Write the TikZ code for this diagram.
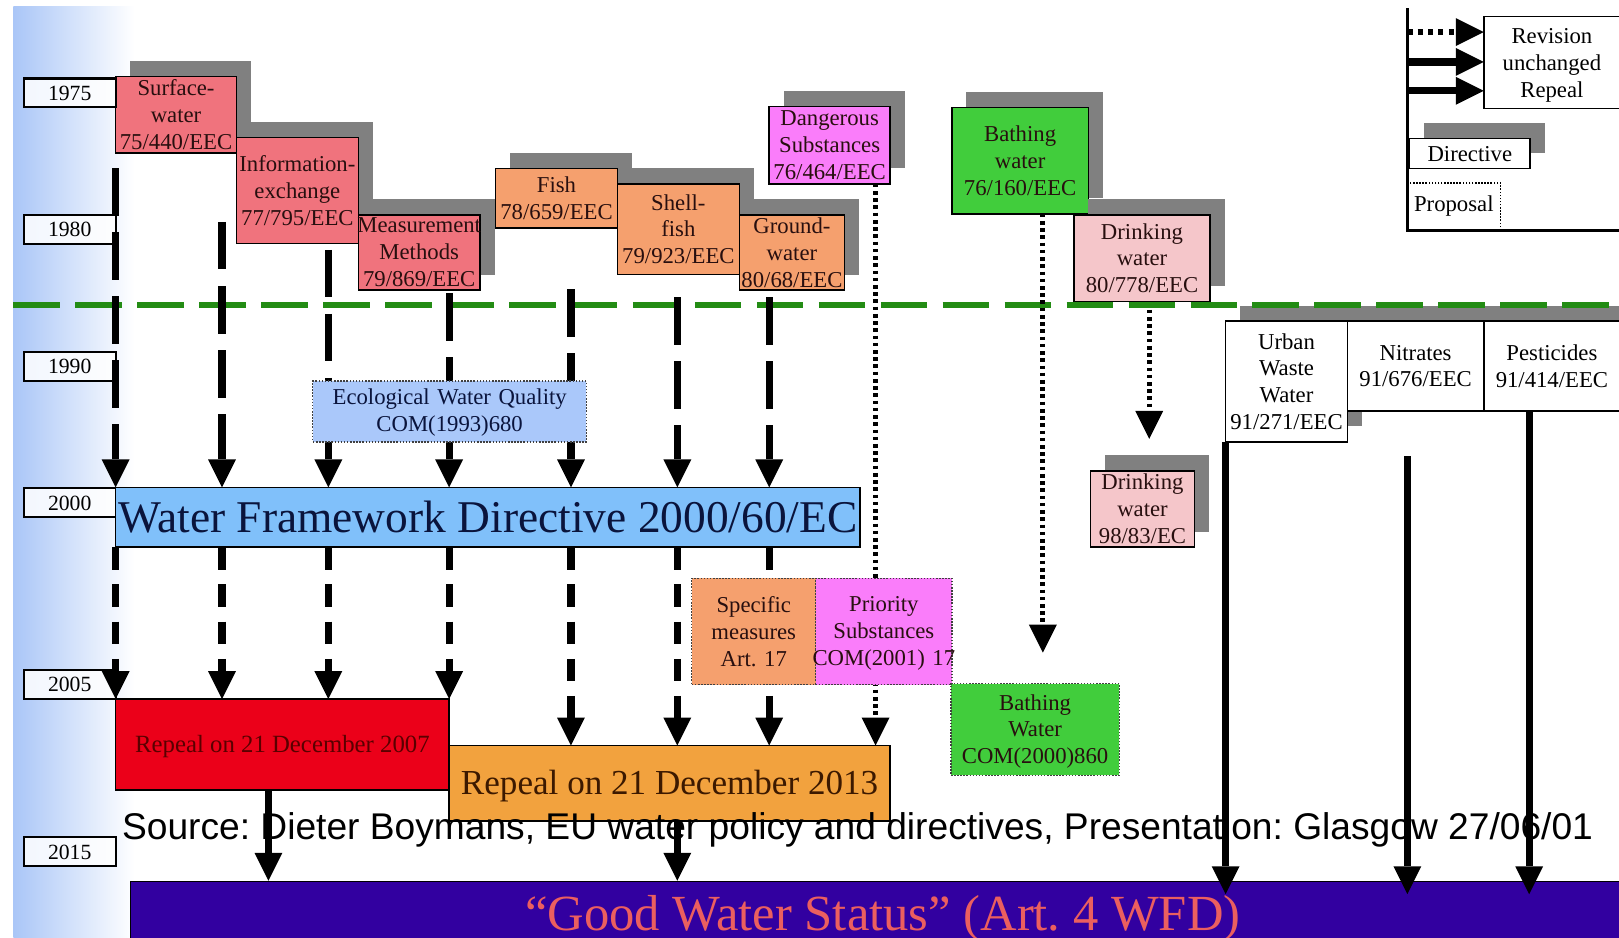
\documentclass[tikz,border=0pt]{standalone}
\usepackage{fontspec}
\setmainfont{Liberation Serif}
\newfontfamily\srcfont{Liberation Sans}
\usetikzlibrary{arrows.meta,shadows}
\frenchspacing
\definecolor{bgblue}{RGB}{170,198,247}
\definecolor{cred}{RGB}{240,115,125}
\definecolor{corange}{RGB}{245,160,110}
\definecolor{cmag}{RGB}{250,125,250}
\definecolor{cgreen}{RGB}{65,205,60}
\definecolor{cpink}{RGB}{245,198,202}
\definecolor{shgray}{RGB}{128,128,128}
\definecolor{ecoblue}{RGB}{170,200,250}
\definecolor{wfdblue}{RGB}{128,192,250}
\definecolor{repred}{RGB}{235,0,25}
\definecolor{reporange}{RGB}{242,162,62}
\definecolor{gwsblue}{RGB}{50,0,160}
\definecolor{gwstext}{RGB}{235,95,95}
\definecolor{dgreen}{RGB}{35,140,20}
\definecolor{ink}{RGB}{40,15,15}
\definecolor{navy}{RGB}{10,20,60}
\definecolor{redink}{RGB}{90,0,0}
\definecolor{brownink}{RGB}{60,25,0}
\begin{document}
\begin{tikzpicture}[x=1pt,y=-1pt,
  base/.style={inner sep=0pt, outer sep=0pt, align=center, text=ink,
    font={\fontsize{22}{26}\selectfont\hyphenpenalty=10000 }},
  dbox/.style={base, draw=black, line width=1.5pt, anchor=north west},
  sz/.style 2 args={minimum width=#1pt, text width=#1pt, minimum height=#2pt},
  shadowed/.style={drop shadow={shadow xshift=14pt, shadow yshift=15pt, fill=shgray, draw=none, opacity=1}},
  propbox/.style={base, draw=black!75, line width=1.2pt, dash pattern=on 1.5pt off 1.5pt, anchor=north west},
  yearbox/.style={base, draw=black, line width=2pt, fill=white, fill opacity=.85, text opacity=1,
    anchor=north west, minimum width=89pt, minimum height=28pt, text=black,
    text height=14pt, text depth=0pt, font=\fontsize{21}{24}\selectfont},
  tip/.style={-{Triangle[length=27pt,width=27pt,line width=0pt]}},
  heavy/.style={tip, line width=7pt},
  longdash/.style={dash pattern=on 46pt off 16pt},
  shortdash/.style={dash pattern=on 22pt off 14pt},
  dotline/.style={tip, line width=5pt, dash pattern=on 3.5pt off 3.5pt},
]
\useasboundingbox (0,0) rectangle (1568,908);
\fill[white] (0,0) rectangle (1568,908);
\shade[left color=bgblue, right color=white] (13,6) rectangle (130,908);

% legend frame
\coordinate (lt) at (1363,8);
\coordinate (lb) at (1363,223);
\coordinate (lr) at (1585,223);
\draw[line width=3pt] (lt) -- (lb) -- (lr);
\node[dbox,fill=white,text=black,sz={132}{89}] (rev) at (1437,16) {\rule{0pt}{20pt}Revision\\unchanged\\Repeal};
\node[dbox,shadowed,fill=white,text=black,sz={117}{29},text height=15pt,text depth=0pt] (dir) at (1365,134) {Directive};
\node[base,anchor=north west,text=black,minimum width=90pt,minimum height=46pt] (prop) at (1363,177) {Proposal};
\draw[line width=1.5pt, dash pattern=on 1.5pt off 1.5pt] (prop.south east) -- (prop.north east) -- (prop.north west);
\coordinate (la) at (1363,31);
\coordinate (lc) at (1363,60);
\coordinate (ld) at (1363,88);
\draw[tip, line width=6pt, dash pattern=on 5pt off 5pt] (la) -- (la -| rev.west);
\draw[heavy] (lc) -- (lc -| rev.west);
\draw[heavy] (ld) -- (ld -| rev.west);

% upper directives
\node[dbox,shadowed,fill=cred,sz={117}{74}] (surf) at (112,74) {Surface-\\water\\75/440/EEC};
\node[dbox,shadowed,fill=cred,sz={118}{103}] (info) at (229,133) {Information-\\exchange\\77/795/EEC};
\node[dbox,shadowed,fill=cred,sz={118}{73}] (meas) at (347,208) {\makebox[0pt]{Measurement}\\Methods\\79/869/EEC};
\node[dbox,shadowed,fill=corange,sz={118}{58}] (fish) at (480,163) {Fish\\78/659/EEC};
\node[dbox,shadowed,fill=corange,sz={118}{88}] (shell) at (598,178) {Shell-\\fish\\79/923/EEC};
\node[dbox,shadowed,fill=corange,sz={102}{73}] (ground) at (716,208) {Ground-\\water\\80/68/EEC};
\node[dbox,shadowed,fill=cmag,sz={117}{75}] (danger) at (745,103) {Dangerous\\Substances\\76/464/EEC};
\node[dbox,shadowed,fill=cgreen,sz={132}{103}] (bath) at (922,104) {Bathing\\water\\76/160/EEC};
\node[dbox,shadowed,fill=cpink,sz={132}{84}] (drink) at (1040,208) {Drinking\\water\\80/778/EEC};

% 1991 directives
\node[dbox,shadowed,fill=white,text=black,sz={118}{117}] (urban) at (1187,311) {Urban\\Waste\\Water\\91/271/EEC};
\node[dbox,shadowed,fill=white,text=black,sz={132}{87}] (nitr) at (1305,311) {Nitrates\\91/676/EEC};
\node[dbox,shadowed,fill=white,text=black,sz={132}{87}] (pest) at (1437,311) {Pesticides\\91/414/EEC};

% year labels
\node[yearbox] (y75) at (23,76) {1975};
\node[yearbox] (y80) at (23,208) {1980};
\node[yearbox] (y90) at (23,341) {1990};
\node[yearbox] (y00) at (23,473) {2000};
\node[yearbox] (y05) at (23,649) {2005};
\node[yearbox] (y15) at (23,811) {2015};

% 1985 divider
\coordinate (gl) at (13,295);
\coordinate (gr) at (1568,295);
\draw[dgreen, line width=6pt, dash pattern=on 45pt off 15pt] (gl) -- (gr);

% main boxes
\node[dbox,fill=wfdblue,minimum width=721pt,minimum height=58pt,text=navy,
  text height=29pt,text depth=0pt,
  font=\fontsize{44}{50}\selectfont] (wfd) at (112,472) {Water Framework Directive 2000/60/EC};
\node[dbox,fill=repred,minimum width=323pt,minimum height=88pt,text=redink,
  text height=16pt,text depth=0pt,
  font=\fontsize{24}{28}\selectfont] (r07) at (112,677) {Repeal on 21 December 2007};
\node[dbox,fill=reporange,minimum width=427pt,minimum height=73pt,text=brownink,
  text height=22.5pt,text depth=0pt,
  font=\fontsize{34}{38}\selectfont] (r13) at (435,722) {Repeal on 21 December 2013};
\node[draw=black,line width=1pt,fill=gwsblue,anchor=north west,inner sep=0pt,
  minimum width=1458pt,minimum height=80pt] (gws) at (126,853) {};
\node[anchor=base,text=gwstext,inner sep=0pt,font=\fontsize{49}{55}\selectfont] (gwst) at (855,901)
  {``Good Water Status'' (Art. 4 WFD)};

% source line
\node[anchor=base west,inner sep=0pt,text=black,font={\srcfont\fontsize{36}{40}\selectfont}] (src) at (118,813)
  {Source: Dieter Boymans, EU water policy and directives, Presentation: Glasgow 27/06/01};

% column starts
\coordinate (u1) at (112,163);
\coordinate (u2) at (215,215);
\coordinate (u3) at (318,242);
\coordinate (u4) at (435,284);
\coordinate (u5) at (553,280);
\coordinate (u6) at (656,288);
\coordinate (u7) at (745,288);
\foreach \n in {1,...,7}{
  \draw[heavy,longdash] (u\n) -- (u\n |- wfd.north);
}
\foreach \n in {1,...,4}{
  \draw[heavy,shortdash] (u\n |- wfd.south) -- (u\n |- r07.north);
}
\foreach \n in {5,6,7}{
  \draw[heavy,shortdash] (u\n |- wfd.south) -- (u\n |- r13.north);
}

% dotted revisions
\coordinate (dd) at (848,0);
\draw[dotline] (dd |- danger.south) -- (dd |- r13.north);
\coordinate (bd) at (1010,632);
\draw[dotline] (bd |- bath.south) -- (bd);
\coordinate (ks) at (1113,300);
\coordinate (ke) at (1113,425);
\draw[dotline] (ks) -- (ke);

% into good water status
\coordinate (g1) at (260,0);
\coordinate (g2) at (656,0);
\draw[heavy] (g1 |- r07.south) -- (g1 |- gws.north);
\draw[heavy] (g2 |- r13.south) -- (g2 |- gws.north);
\coordinate (ue) at (1187,866);
\draw[heavy] (urban.south west) -- (ue);
\coordinate (ns) at (1363,442);
\coordinate (ne) at (1363,866);
\draw[heavy] (ns) -- (ne);
\coordinate (px) at (1481,866);
\draw[heavy] (px |- pest.south) -- (px);

% proposals and later directives
\node[propbox,fill=ecoblue,text=navy,sz={265}{59}] (eco) at (303,369) {\rule{0pt}{18pt}Ecological Water Quality\\COM(1993)680};
\node[propbox,fill=corange,sz={120}{103}] (spec) at (670,560) {Specific\\measures\\Art. 17};
\node[propbox,fill=cmag,sz={132}{103}] (prio) at (790,560) {\rule{0pt}{18pt}Priority\\Substances\\\makebox[0pt]{COM(2001) 17}};
\node[propbox,fill=cgreen,sz={163}{89}] (bathc) at (921,662) {\rule{0pt}{19pt}Bathing\\Water\\COM(2000)860};
\node[dbox,shadowed,fill=cpink,sz={101}{74}] (drink2) at (1056,456) {Drinking\\water\\98/83/EC};
\end{tikzpicture}
\end{document}
